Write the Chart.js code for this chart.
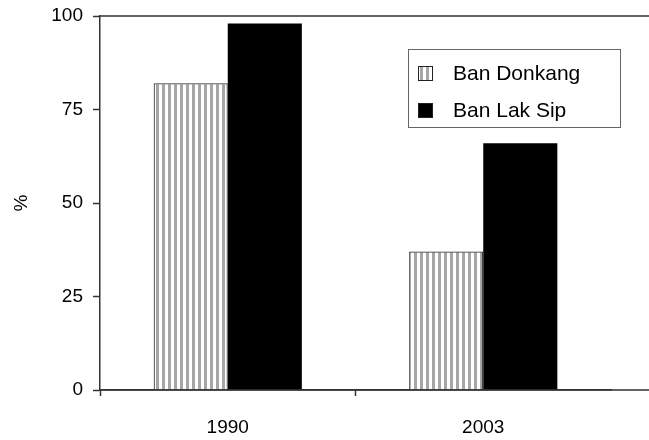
<!DOCTYPE html>
<html>
<head>
<meta charset="utf-8">
<script src="https://cdn.jsdelivr.net/npm/chart.js@4"></script>
<style>
  html, body { margin: 0; padding: 0; background: #fff; }
  #wrap { width: 649px; height: 440px; }
</style>
</head>
<body>
<div id="wrap"><canvas id="chart" width="649" height="440"></canvas></div>
<script>
const years = ["1990", "2003"]
const donkang = [82, 37]
const lakSip = [98, 66]
const yTicks = [0, 25, 50, 75, 100]

const font = "'Liberation Sans', Arial, sans-serif"
const ink = "#000"
const axisColor = "#333"

function stripePattern() {
  const c = document.createElement("canvas")
  c.width = 6
  c.height = 6
  const g = c.getContext("2d")
  g.fillStyle = "#fff"
  g.fillRect(0, 0, 6, 6)
  g.fillStyle = "#a6a6a6"
  g.fillRect(0, 0, 3, 6)
  return g.createPattern(c, "repeat")
}

// top frame line, x axis line run out to the right edge, and the boxed legend
const framePlugin = {
  id: "frame",
  afterDraw(chart) {
    const ctx = chart.ctx
    const a = chart.chartArea
    ctx.save()
    ctx.strokeStyle = axisColor
    ctx.lineWidth = 1.5
    ctx.beginPath()
    ctx.moveTo(a.left, a.top)
    ctx.lineTo(chart.width, a.top)
    ctx.moveTo(a.left, a.bottom)
    ctx.lineTo(chart.width, a.bottom)
    ctx.stroke()

    // legend
    const bx = 408, by = 49, bw = 212, bh = 78
    ctx.fillStyle = "#fff"
    ctx.fillRect(bx, by, bw, bh)
    ctx.strokeStyle = "#666"
    ctx.lineWidth = 1
    ctx.strokeRect(bx + 0.5, by + 0.5, bw, bh)
    ctx.font = "21px " + font
    ctx.textBaseline = "middle"
    chart.data.datasets.forEach((ds, i) => {
      const cy = by + 24 + i * 37
      ctx.fillStyle = ds.backgroundColor
      ctx.fillRect(bx + 10, cy - 7, 15, 15)
      ctx.strokeStyle = "#222"
      ctx.lineWidth = 1
      ctx.strokeRect(bx + 10.5, cy - 6.5, 14, 14)
      ctx.fillStyle = ink
      ctx.fillText(ds.label, bx + 45, cy + 1)
    })
    ctx.restore()
  }
}

function createChart(ctx) {
  return new Chart(ctx, {
    type: "bar",
    data: {
      labels: years,
      datasets: [{
        label: "Ban Donkang",
        data: donkang,
        backgroundColor: stripePattern(),
        borderColor: "#333",
        borderWidth: 1.2
      }, {
        label: "Ban Lak Sip",
        data: lakSip,
        backgroundColor: "#000",
        borderColor: "#000",
        borderWidth: 0
      }]
    },
    options: {
      responsive: false,
      animation: false,
      layout: { padding: { top: 16, right: 38, left: 0, bottom: 0 } },
      plugins: { legend: { display: false }, tooltip: { enabled: false } },
      datasets: { bar: { categoryPercentage: 0.58, barPercentage: 1.0 } },
      scales: {
        x: {
          grid: {
            drawOnChartArea: false,
            tickLength: 6,
            tickColor: c => c.tick ? axisColor : "rgba(0,0,0,0)",
            tickWidth: 1.5
          },
          border: { color: axisColor, width: 1.5 },
          ticks: { color: ink, font: { family: font, size: 19 }, padding: 20 },
          afterFit: s => { s.height = 50; s.paddingLeft = 0; s.paddingRight = 0 }
        },
        y: {
          min: 0,
          max: 100,
          afterBuildTicks: s => { s.ticks = yTicks.map(v => ({ value: v })) },
          grid: { drawOnChartArea: false, tickLength: 7, tickColor: axisColor, tickWidth: 1.5 },
          border: { color: axisColor, width: 1.5 },
          ticks: { color: ink, font: { family: font, size: 19 }, padding: 10 },
          title: { display: true, text: "%", color: ink, font: { family: font, size: 19 }, padding: { top: 10, bottom: 0 } },
          afterFit: s => { s.width = 100; s.paddingTop = 0; s.paddingBottom = 0 }
        }
      }
    },
    plugins: [framePlugin]
  })
}

createChart(document.getElementById("chart"))
</script>
</body>
</html>
